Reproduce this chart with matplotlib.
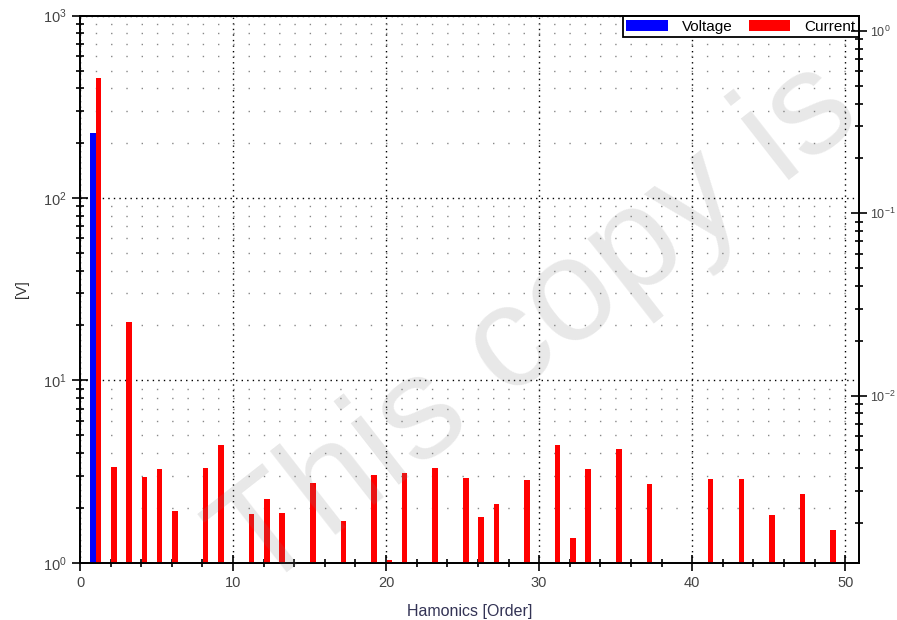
import numpy as np
import matplotlib
matplotlib.use('Agg')
import matplotlib.pyplot as plt
from matplotlib.ticker import LogLocator, MultipleLocator, NullFormatter

plt.rcParams['font.family'] = ['Liberation Sans', 'DejaVu Sans']

# harmonic order and amplitudes
volt_orders = [1]
volt_values = [227]

curr_orders = [1, 2, 3, 4, 5, 6, 8, 9, 11, 12, 13, 15, 17, 19, 20, 21, 23, 25, 26, 27,
               29, 31, 32, 33, 35, 37, 41, 43, 45, 47, 49]
curr_values = [457, 3.36, 20.9, 2.94, 3.25, 1.91, 3.31, 4.42, 1.86, 2.24, 1.88, 2.75, 1.70,
               3.04, 1.035, 3.09, 3.31, 2.93, 1.77, 2.09, 2.84, 4.42, 1.37, 3.25, 4.20, 2.69,
               2.89, 2.89, 1.82, 2.39, 1.51]

fig = plt.figure(figsize=(8.97, 6.2), dpi=100)
ax = fig.add_axes([0.0892, 0.0924, 0.8684, 0.8823])

w = 0.36
ax.bar(np.array(volt_orders) - 0.14, volt_values, width=w, color='#0000ff', label='Voltage', zorder=3)
ax.bar(np.array(curr_orders) + 0.21, curr_values, width=w, color='#ff0000', label='Current', zorder=3)

ax.set_yscale('log')
ax.set_ylim(1, 1000)
ax.set_xlim(0, 50.9)
ax.xaxis.set_major_locator(MultipleLocator(10))
ax.xaxis.set_minor_locator(MultipleLocator(2))
ax.yaxis.set_minor_locator(LogLocator(base=10, subs=np.arange(2, 10)))
ax.yaxis.set_minor_formatter(NullFormatter())

ax.grid(True, which='major', color='black', linestyle=(0, (1, 3)), linewidth=1, zorder=1)
ax.grid(False, which='minor', axis='x')
ax.grid(True, which='minor', axis='y', color='#888888', linestyle=(0, (1, 10)), linewidth=1, zorder=1)

for s in ax.spines.values():
    s.set_linewidth(1.3)
ax.tick_params(which='major', direction='inout', length=12, width=1.2, labelsize=10.5, labelcolor='#444444')
ax.tick_params(which='minor', direction='inout', length=6, width=1.2)
ax.tick_params(axis='x', which='both', top=False)

# right axis (current scale)
ax2 = ax.twinx()
ax2.set_position(ax.get_position())
ax2.set_yscale('log')
ax2.set_ylim(0.00121, 1.213)
ax2.yaxis.set_minor_locator(LogLocator(base=10, subs=np.arange(2, 10)))
ax2.yaxis.set_minor_formatter(NullFormatter())
ax2.tick_params(which='major', direction='inout', length=12, width=1.2, labelsize=9,
                labelcolor='#444444', pad=2)
ax2.tick_params(which='minor', direction='inout', length=6, width=1.2)
for s in ax2.spines.values():
    s.set_linewidth(1.3)

ax.set_ylabel('[V]', fontsize=10.5, color='#333333', labelpad=10)
ax.set_xlabel('Hamonics [Order]', fontsize=11.5, color='#333355', labelpad=10)

leg = ax.legend(loc='upper right', ncol=2, fontsize=11, frameon=True, fancybox=False,
                edgecolor='black', framealpha=1, borderaxespad=0, handlelength=2.7,
                handleheight=0.7, handletextpad=0.9, columnspacing=1.1, borderpad=0.25)
leg.get_frame().set_linewidth(1.3)
leg.set_zorder(10)

# watermark
fig.text(0.6, 0.47, 'This copy is', fontsize=105, color='#808080', alpha=0.18,
         rotation=38, ha='center', va='center', zorder=20)

fig.savefig('out.png', dpi=100)
